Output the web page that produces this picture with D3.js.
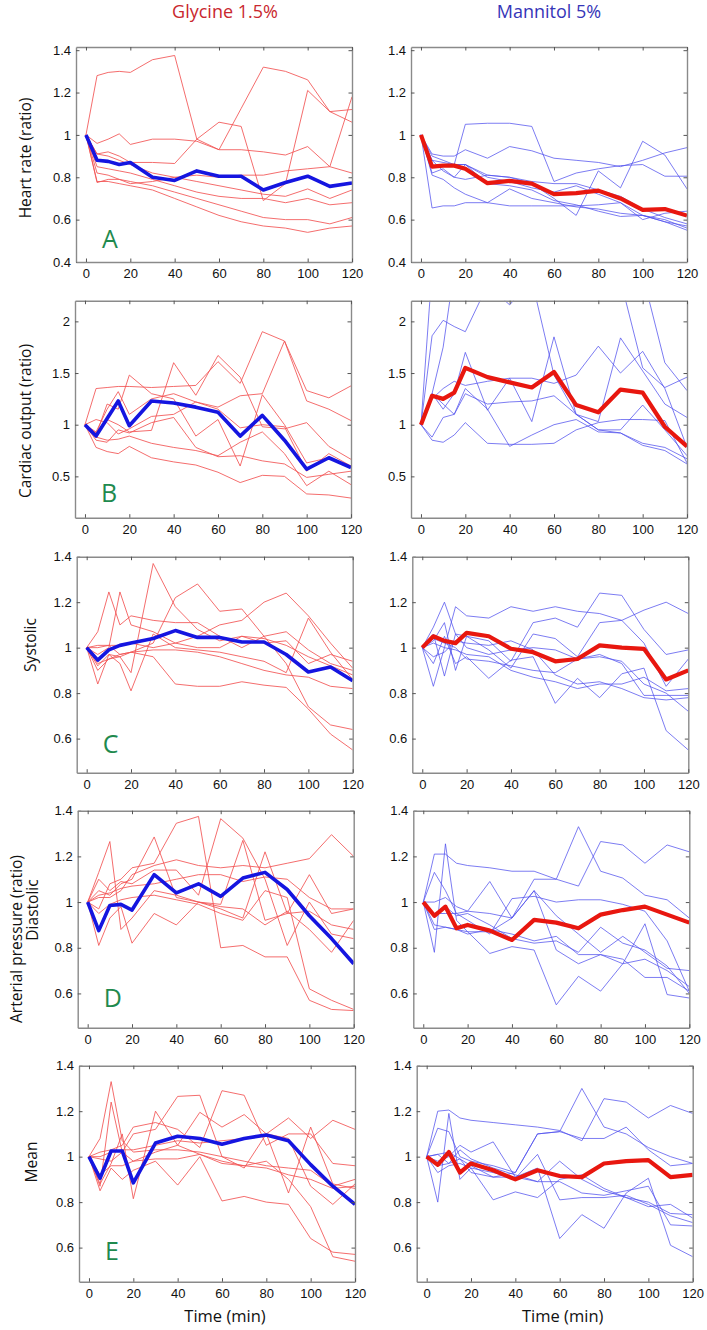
<!DOCTYPE html>
<html>
<head>
<meta charset="utf-8">
<script src="https://cdn.jsdelivr.net/npm/d3@7"></script>
<style>
  html, body { margin: 0; padding: 0; background: #fff; }
  svg { display: block; }
</style>
</head>
<body>
<svg id="chart" width="707" height="1330"></svg>
<script>
// ---------------- DATA ----------------
const times = [0, 5, 10, 15, 20, 30, 40, 50, 60, 70, 80, 90, 100, 110, 120];
const groupTitles = ["Glycine 1.5%", "Mannitol 5%"];
const panelLetters = ["A", "B", "C", "D", "E"];
const xTicks = [0, 20, 40, 60, 80, 100, 120];
const xLabel = "Time (min)";

// A: heart rate
const glyHeartRate = [
  [1.0, 1.28, 1.295, 1.30, 1.295, 1.355, 1.375, 0.98, 0.93, 1.125, 1.32, 1.30, 1.26, 1.11, 1.06],
  [1.0, 0.96, 0.98, 1.005, 0.955, 0.98, 0.98, 0.97, 0.93, 0.93, 0.92, 0.905, 0.945, 0.85, 1.18],
  [1.0, 0.91, 0.92, 0.90, 0.87, 0.87, 0.865, 0.98, 1.06, 1.04, 0.69, 0.77, 1.21, 1.11, 1.12],
  [1.0, 0.91, 0.90, 0.88, 0.86, 0.82, 0.80, 0.78, 0.76, 0.74, 0.72, 0.71, 0.745, 0.70, 0.74],
  [1.0, 0.85, 0.84, 0.83, 0.82, 0.79, 0.76, 0.73, 0.71, 0.70, 0.70, 0.68, 0.70, 0.67, 0.68],
  [1.0, 0.82, 0.81, 0.79, 0.78, 0.76, 0.73, 0.70, 0.67, 0.64, 0.61, 0.60, 0.60, 0.58, 0.61],
  [1.0, 0.78, 0.78, 0.77, 0.76, 0.74, 0.70, 0.66, 0.62, 0.59, 0.57, 0.56, 0.54, 0.56, 0.57],
  [1.0, 0.775, 0.79, 0.79, 0.77, 0.78, 0.80, 0.81, 0.80, 0.81, 0.81, 0.83, 0.84, 0.85, 0.82]
];
const glyHeartRateMean = [1.0, 0.88, 0.875, 0.86, 0.87, 0.80, 0.785, 0.83, 0.805, 0.805, 0.74, 0.775, 0.805, 0.757, 0.773];
const manHeartRate = [
  [1.0, 0.90, 0.88, 0.86, 1.05, 1.055, 1.055, 1.04, 0.78, 0.82, 0.84, 0.855, 0.86, 0.805, 0.805],
  [1.0, 0.91, 0.90, 0.90, 0.93, 0.89, 0.945, 0.925, 0.89, 0.88, 0.87, 0.85, 0.88, 0.915, 0.94],
  [1.0, 0.88, 0.87, 0.86, 0.86, 0.81, 0.80, 0.77, 0.70, 0.62, 0.83, 0.75, 0.97, 0.905, 0.745],
  [1.0, 0.655, 0.665, 0.665, 0.68, 0.68, 0.745, 0.70, 0.68, 0.66, 0.65, 0.63, 0.62, 0.59, 0.57],
  [1.0, 0.81, 0.79, 0.75, 0.72, 0.68, 0.665, 0.665, 0.665, 0.665, 0.67, 0.68, 0.62, 0.60, 0.56],
  [1.0, 0.88, 0.83, 0.80, 0.79, 0.81, 0.80, 0.78, 0.77, 0.77, 0.74, 0.71, 0.65, 0.61, 0.58],
  [1.0, 0.85, 0.86, 0.86, 0.86, 0.77, 0.76, 0.74, 0.69, 0.67, 0.64, 0.615, 0.62, 0.59, 0.55],
  [1.0, 0.82, 0.84, 0.80, 0.86, 0.80, 0.78, 0.75, 0.73, 0.76, 0.72, 0.68, 0.60, 0.63, 0.64]
];
const manHeartRateMean = [1.0, 0.85, 0.855, 0.855, 0.84, 0.772, 0.783, 0.77, 0.72, 0.725, 0.737, 0.70, 0.646, 0.65, 0.619];

// B: cardiac output
const glyCardiacOutput = [
  [1.0, 1.35, 1.36, 1.37, 1.37, 1.36, 1.37, 1.38, 1.61, 1.40, 1.90, 1.81, 1.33, 1.26, 1.376],
  [1.0, 0.93, 1.15, 1.32, 1.10, 1.25, 1.30, 1.22, 1.17, 1.28, 1.30, 1.81, 1.23, 1.15, 1.04],
  [1.0, 0.92, 1.05, 1.00, 0.93, 0.945, 1.60, 1.285, 1.67, 1.46, 0.98, 0.96, 1.02, 0.79, 0.665],
  [1.0, 0.90, 1.20, 1.15, 1.48, 1.30, 1.25, 0.89, 1.05, 0.60, 1.29, 1.00, 0.63, 0.68, 0.60],
  [1.0, 1.05, 1.02, 0.91, 0.96, 1.08, 1.10, 1.22, 1.15, 0.97, 1.00, 0.98, 0.55, 0.72, 0.60],
  [1.0, 0.85, 0.83, 0.95, 0.92, 1.02, 1.07, 0.78, 0.69, 0.70, 0.65, 0.62, 0.49, 0.52, 0.55],
  [1.0, 0.78, 0.74, 0.72, 0.79, 0.68, 0.64, 0.61, 0.54, 0.44, 0.51, 0.50, 0.33, 0.32, 0.29],
  [1.0, 0.88, 0.85, 0.86, 0.89, 0.82, 0.78, 0.75, 0.70, 0.83, 0.93, 0.72, 0.41, 0.55, 0.42]
];
const glyCardiacOutputMean = [1.0, 0.89, 1.06, 1.23, 0.99, 1.23, 1.21, 1.17, 1.12, 0.89, 1.09, 0.85, 0.57, 0.68, 0.585];
const manCardiacOutput = [
  [1.0, 2.5, 2.6, 2.6, 2.7, 2.7, 2.6, 2.6, 2.5, 2.4, 2.4, 2.4, 1.55, 1.36, 1.46],
  [1.0, 1.30, 1.75, 2.5, 2.5, 2.6, 2.6, 2.6, 2.6, 2.6, 2.5, 2.5, 2.45, 1.6, 1.33],
  [1.0, 1.86, 2.01, 1.95, 1.90, 2.35, 2.16, 2.40, 1.48, 1.10, 0.95, 0.92, 0.80, 0.75, 0.62],
  [1.0, 1.30, 1.15, 1.30, 1.70, 1.14, 1.45, 1.03, 1.85, 1.10, 1.03, 1.84, 1.52, 1.20, 1.07],
  [1.0, 1.25, 1.35, 1.42, 1.38, 1.42, 1.45, 1.45, 1.40, 1.48, 1.76, 1.50, 1.71, 1.35, 0.78],
  [1.0, 1.30, 1.20, 1.10, 1.30, 1.20, 1.22, 1.23, 1.28, 1.10, 0.95, 0.95, 1.19, 0.95, 0.70],
  [1.0, 0.85, 0.83, 0.90, 1.02, 0.82, 0.81, 0.81, 0.82, 0.95, 1.02, 1.05, 1.05, 1.04, 0.63],
  [1.0, 0.88, 1.07, 1.10, 1.35, 1.15, 0.79, 0.90, 1.00, 1.05, 0.93, 0.92, 0.82, 0.78, 0.67]
];
const manCardiacOutputMean = [1.0, 1.28, 1.25, 1.31, 1.55, 1.46, 1.41, 1.36, 1.51, 1.19, 1.12, 1.34, 1.31, 0.98, 0.79];

// C: systolic arterial pressure
const glySystolic = [
  [1.0, 1.07, 1.245, 1.10, 1.14, 1.12, 1.11, 1.11, 1.05, 1.00, 1.05, 1.07, 0.99, 0.93, 0.90],
  [1.0, 0.97, 1.00, 1.245, 1.10, 1.07, 1.02, 1.00, 1.00, 1.05, 1.02, 1.03, 0.93, 0.97, 0.94],
  [1.0, 0.92, 0.97, 0.96, 0.89, 1.37, 1.18, 1.08, 1.03, 1.05, 1.04, 1.01, 0.96, 0.92, 0.88],
  [1.0, 0.90, 0.95, 0.97, 0.98, 1.02, 1.22, 1.28, 1.16, 1.17, 1.05, 0.93, 0.74, 0.66, 0.64],
  [1.0, 1.00, 1.01, 1.01, 1.02, 1.00, 1.02, 1.05, 1.10, 1.12, 1.20, 1.24, 1.14, 1.02, 0.91],
  [1.0, 0.84, 0.97, 0.93, 0.81, 1.06, 1.00, 0.99, 0.98, 0.96, 0.94, 0.89, 1.13, 0.98, 0.86],
  [1.0, 0.93, 0.95, 0.96, 0.98, 0.96, 0.84, 0.83, 0.83, 0.85, 0.835, 0.825, 0.73, 0.62, 0.55],
  [1.0, 1.01, 1.01, 0.97, 0.98, 0.99, 0.99, 0.98, 0.96, 0.93, 0.90, 0.88, 0.87, 0.83, 0.82]
];
const glySystolicMean = [1.0, 0.945, 0.99, 1.01, 1.02, 1.04, 1.075, 1.045, 1.045, 1.025, 1.025, 0.97, 0.893, 0.915, 0.855];
const manSystolic = [
  [1.0, 1.09, 1.20, 1.06, 1.00, 0.97, 0.99, 1.00, 0.99, 0.95, 0.96, 0.94, 0.84, 0.80, 0.72],
  [1.0, 0.83, 1.00, 1.18, 1.14, 1.13, 1.18, 1.16, 1.18, 1.16, 1.15, 1.12, 1.165, 1.20, 1.15],
  [1.0, 1.03, 1.11, 0.90, 1.05, 1.03, 0.94, 1.11, 1.13, 1.09, 1.24, 1.23, 1.08, 0.97, 0.99],
  [1.0, 1.06, 0.875, 1.06, 1.05, 0.99, 0.91, 1.06, 1.04, 0.96, 1.11, 1.12, 1.02, 0.83, 0.95],
  [1.0, 0.93, 1.05, 0.93, 0.96, 0.865, 0.945, 0.96, 0.755, 0.865, 0.78, 0.885, 0.91, 0.635, 0.55],
  [1.0, 1.02, 1.00, 0.99, 0.97, 0.96, 0.90, 0.87, 0.85, 0.82, 0.84, 0.84, 0.87, 0.81, 0.82],
  [1.0, 1.04, 1.02, 1.00, 0.95, 0.94, 0.92, 0.90, 0.89, 0.95, 0.97, 0.93, 0.79, 0.79, 0.79],
  [1.0, 0.96, 0.98, 1.03, 1.02, 1.01, 1.03, 0.99, 0.88, 0.84, 0.85, 0.82, 0.78, 0.77, 0.78]
];
const manSystolicMean = [1.0, 1.05, 1.03, 1.02, 1.065, 1.05, 0.995, 0.98, 0.94, 0.95, 1.01, 1.00, 0.995, 0.86, 0.90];

// D: diastolic arterial pressure
const glyDiastolic = [
  [1.0, 1.13, 1.265, 0.88, 0.93, 1.05, 1.03, 1.00, 0.97, 0.93, 1.22, 0.95, 0.96, 0.90, 0.88],
  [1.0, 1.05, 1.03, 1.08, 1.10, 1.285, 1.02, 1.00, 0.99, 1.27, 0.92, 0.95, 1.12, 0.95, 0.97],
  [1.0, 0.97, 1.08, 1.10, 1.15, 1.17, 1.345, 1.375, 0.80, 0.81, 0.76, 0.76, 0.57, 0.53, 0.525],
  [1.0, 1.10, 1.05, 1.09, 1.08, 1.14, 1.14, 1.03, 1.365, 1.28, 1.10, 0.81, 1.00, 0.86, 0.84],
  [1.0, 1.02, 1.02, 1.05, 1.12, 1.16, 1.185, 1.16, 1.15, 1.16, 1.15, 1.17, 1.19, 1.295, 1.20],
  [1.0, 0.81, 0.93, 0.98, 0.82, 0.95, 0.90, 1.00, 0.98, 0.97, 0.90, 0.96, 0.88, 0.78, 0.92],
  [1.0, 0.95, 0.99, 1.01, 1.02, 1.03, 1.01, 0.99, 0.95, 0.92, 1.05, 1.02, 0.62, 0.57, 0.53],
  [1.0, 1.03, 1.04, 1.06, 1.07, 1.08, 1.10, 1.12, 1.12, 1.09, 1.11, 1.10, 1.02, 0.97, 0.97]
];
const glyDiastolicMean = [1.0, 0.875, 0.985, 0.99, 0.965, 1.12, 1.04, 1.08, 1.025, 1.105, 1.13, 1.055, 0.94, 0.84, 0.73];
const manDiastolic = [
  [1.0, 1.21, 1.21, 1.17, 1.16, 1.15, 1.135, 1.135, 1.10, 1.07, 1.265, 1.25, 1.17, 1.25, 1.22],
  [1.0, 1.13, 1.05, 0.95, 0.96, 0.95, 0.93, 1.10, 1.10, 1.33, 1.135, 1.105, 1.03, 1.01, 0.93],
  [1.0, 0.78, 1.255, 0.92, 0.87, 0.87, 0.93, 1.05, 0.79, 0.73, 0.77, 0.73, 0.905, 0.595, 0.58],
  [1.0, 1.00, 1.02, 0.98, 0.96, 1.09, 0.93, 1.05, 0.94, 0.86, 0.78, 0.85, 0.78, 0.71, 0.70],
  [1.0, 0.90, 0.89, 0.88, 0.87, 0.775, 0.805, 0.79, 0.55, 0.675, 0.61, 0.73, 0.75, 0.70, 0.63],
  [1.0, 0.95, 0.95, 0.95, 0.92, 0.86, 1.015, 1.025, 1.00, 1.01, 1.01, 0.99, 0.96, 0.83, 0.61],
  [1.0, 0.88, 0.89, 0.88, 0.86, 0.88, 0.86, 0.83, 0.85, 0.77, 0.77, 0.75, 0.67, 0.67, 0.61],
  [1.0, 0.95, 0.98, 0.94, 0.95, 0.90, 0.84, 0.82, 0.83, 0.78, 0.89, 0.82, 0.79, 0.72, 0.60]
];
const manDiastolicMean = [1.0, 0.94, 0.98, 0.885, 0.90, 0.875, 0.834, 0.922, 0.91, 0.885, 0.945, 0.965, 0.98, 0.945, 0.91];

// E: mean arterial pressure
const glyMeanPressure = [
  [1.0, 1.08, 1.33, 1.07, 1.02, 1.03, 1.03, 1.02, 1.00, 0.98, 0.96, 0.95, 0.94, 0.87, 0.90],
  [1.0, 0.87, 1.24, 1.02, 0.98, 1.02, 1.05, 1.195, 1.13, 1.185, 1.10, 0.84, 1.13, 0.88, 0.86],
  [1.0, 0.88, 0.97, 1.10, 0.815, 1.20, 1.05, 1.01, 0.97, 0.96, 0.95, 0.92, 0.90, 0.86, 0.87],
  [1.0, 0.99, 0.98, 1.02, 1.10, 1.12, 1.265, 1.27, 1.00, 0.95, 1.10, 1.08, 0.87, 0.79, 0.88],
  [1.0, 1.02, 1.03, 1.05, 1.13, 1.15, 1.12, 1.04, 1.29, 1.27, 1.05, 1.10, 1.10, 0.97, 0.96],
  [1.0, 0.85, 0.95, 0.90, 0.94, 0.98, 0.875, 1.00, 0.805, 0.825, 0.80, 0.79, 0.64, 0.58, 0.57],
  [1.0, 1.00, 1.02, 1.03, 1.03, 1.05, 1.07, 1.06, 1.07, 1.08, 1.10, 1.17, 1.08, 1.16, 1.12],
  [1.0, 0.92, 0.96, 0.96, 0.98, 0.99, 0.99, 1.01, 0.98, 0.96, 0.98, 0.90, 0.78, 0.56, 0.54]
];
const glyMeanPressureMean = [1.0, 0.905, 1.025, 1.025, 0.885, 1.06, 1.09, 1.08, 1.055, 1.08, 1.095, 1.07, 0.965, 0.87, 0.79];
const manMeanPressure = [
  [1.0, 1.20, 1.205, 1.17, 1.16, 1.15, 1.14, 1.13, 1.115, 1.07, 1.255, 1.24, 1.17, 1.225, 1.19],
  [1.0, 1.125, 1.11, 1.00, 0.98, 0.96, 0.93, 1.10, 1.11, 1.30, 1.13, 1.10, 1.04, 1.00, 0.97],
  [1.0, 0.80, 1.19, 0.90, 0.95, 0.93, 0.905, 1.01, 0.81, 0.82, 0.82, 0.83, 0.79, 0.74, 0.71],
  [1.0, 0.98, 1.00, 1.05, 1.02, 1.065, 0.91, 0.95, 0.64, 0.745, 0.685, 0.84, 0.905, 0.61, 0.56],
  [1.0, 1.01, 1.02, 0.99, 0.96, 0.91, 0.93, 1.10, 1.11, 1.08, 1.08, 1.13, 1.03, 0.96, 0.97],
  [1.0, 0.93, 0.96, 0.97, 0.95, 0.81, 0.845, 0.82, 0.90, 0.92, 0.86, 0.82, 0.80, 0.75, 0.745],
  [1.0, 0.96, 0.97, 0.99, 0.93, 0.91, 0.91, 0.89, 0.89, 0.84, 0.83, 0.85, 0.87, 0.70, 0.695],
  [1.0, 1.01, 0.97, 1.03, 0.99, 0.95, 0.92, 0.89, 0.98, 0.90, 0.85, 0.82, 0.78, 0.79, 0.73]
];
const manMeanPressureMean = [1.0, 0.964, 1.02, 0.93, 0.97, 0.94, 0.90, 0.94, 0.915, 0.91, 0.97, 0.98, 0.985, 0.91, 0.92];

const yTicksA = [0.4, 0.6, 0.8, 1, 1.2, 1.4];
const yTicksB = [0.5, 1, 1.5, 2];
const yTicksP = [0.6, 0.8, 1, 1.2, 1.4];

// ---------------- LAYOUT ----------------
const svg = d3.select("#chart");
const W = 276;
const rows = [
  { glyS: glyHeartRate, glyM: glyHeartRateMean, manS: manHeartRate, manM: manHeartRateMean,
    domain: [0.4, 1.415], ticks: yTicksA, top: 47, bottom: 262, lefts: [76, 411], letterDy: 14 },
  { glyS: glyCardiacOutput, glyM: glyCardiacOutputMean, manS: manCardiacOutput, manM: manCardiacOutputMean,
    domain: [0.1, 2.2], ticks: yTicksB, top: 300.7, bottom: 517.7, lefts: [75, 411], letterDy: 16 },
  { glyS: glySystolic, glyM: glySystolicMean, manS: manSystolic, manM: manSystolicMean,
    domain: [0.45, 1.4], ticks: yTicksP, top: 556.7, bottom: 772.7, lefts: [76.7, 412.3], letterDy: 20 },
  { glyS: glyDiastolic, glyM: glyDiastolicMean, manS: manDiastolic, manM: manDiastolicMean,
    domain: [0.45, 1.4], ticks: yTicksP, top: 810.7, bottom: 1027.7, lefts: [77.7, 413.3], letterDy: 21 },
  { glyS: glyMeanPressure, glyM: glyMeanPressureMean, manS: manMeanPressure, manM: manMeanPressureMean,
    domain: [0.45, 1.4], ticks: yTicksP, top: 1065.7, bottom: 1281.7, lefts: [79, 416.7], letterDy: 22 }
];

const styles = [
  { indiv: "#f25454", mean: "#1515e0", meanW: 3.6, indivOp: 0.85 },
  { indiv: "#5050ee", mean: "#e8170f", meanW: 4.2, indivOp: 0.75 }
];

const tickFont = "'Liberation Sans', Arial, sans-serif";
const labelFont = "'Open Sans', 'DejaVu Sans', sans-serif";
const fmt = d => String(+d.toFixed(2));

rows.forEach((row, ri) => {
  [0, 1].forEach(ci => {
    const left = row.lefts[ci];
    const x = d3.scaleLinear().domain([-4.5, 120]).range([left, left + W]);
    const y = d3.scaleLinear().domain(row.domain).range([row.bottom, row.top]);
    const g = svg.append("g");
    const clipId = `clip-${ri}-${ci}`;
    g.append("clipPath").attr("id", clipId).append("rect")
      .attr("x", left).attr("y", row.top).attr("width", W).attr("height", row.bottom - row.top);

    const line = d3.line().x((d, i) => x(times[i])).y(d => y(d));
    const series = ci === 0 ? row.glyS : row.manS;
    const mean = ci === 0 ? row.glyM : row.manM;
    const st = styles[ci];

    const plot = g.append("g").attr("clip-path", `url(#${clipId})`);
    plot.selectAll("path.indiv").data(series).join("path")
      .attr("class", "indiv")
      .attr("d", line)
      .attr("fill", "none")
      .attr("stroke", st.indiv)
      .attr("stroke-opacity", st.indivOp)
      .attr("stroke-width", 1);
    plot.append("path")
      .attr("d", line(mean))
      .attr("fill", "none")
      .attr("stroke", st.mean)
      .attr("stroke-width", st.meanW)
      .attr("stroke-linejoin", "round");

    // axes (MATLAB style: ticks inside on every side)
    const axL = g.append("g").attr("transform", `translate(${left},0)`)
      .call(d3.axisLeft(y).tickValues(row.ticks).tickSizeInner(-3.5).tickSizeOuter(0).tickPadding(5).tickFormat(fmt));
    const axR = g.append("g").attr("transform", `translate(${left + W},0)`)
      .call(d3.axisRight(y).tickValues(row.ticks).tickSizeInner(-3.5).tickSizeOuter(0).tickFormat(""));
    const axB = g.append("g").attr("transform", `translate(0,${row.bottom})`)
      .call(d3.axisBottom(x).tickValues(xTicks).tickSizeInner(-3.5).tickSizeOuter(0).tickPadding(7).tickFormat(d => d));
    const axT = g.append("g").attr("transform", `translate(0,${row.top})`)
      .call(d3.axisTop(x).tickValues(xTicks).tickSizeInner(-3.5).tickSizeOuter(0).tickFormat(""));
    [axL, axR, axB, axT].forEach(a => {
      a.select(".domain").attr("stroke", "#8a8a8a").attr("stroke-width", 1.4);
      a.selectAll(".tick line").attr("stroke", "#555").attr("stroke-width", 1);
      a.selectAll("text").attr("font-family", tickFont).attr("font-size", 13).attr("fill", "#111");
    });
    axB.selectAll("text").attr("dy", "0.71em");

    if (ci === 0) {
      g.append("text")
        .attr("x", left + 26).attr("y", row.bottom - row.letterDy)
        .attr("font-family", labelFont).attr("font-size", 25)
        .attr("fill", "#1f8a4e").text(panelLetters[ri]);
    }
    if (ri === rows.length - 1) {
      g.append("text")
        .attr("x", (x(-4.5) + x(120)) / 2 + 8).attr("y", 1322)
        .attr("text-anchor", "middle")
        .attr("font-family", labelFont).attr("font-size", 16.5)
        .attr("fill", "#111").text(xLabel);
    }
  });
});

// column titles
svg.append("text").attr("x", 225).attr("y", 18).attr("text-anchor", "middle")
  .attr("font-family", labelFont).attr("font-size", 18).attr("fill", "#c9272e").text(groupTitles[0]);
svg.append("text").attr("x", 549).attr("y", 18).attr("text-anchor", "middle")
  .attr("font-family", labelFont).attr("font-size", 18).attr("fill", "#3535b8").text(groupTitles[1]);

// y-axis labels (rotated)
const yLabels = [
  { text: "Heart rate (ratio)", x: 31, y: 158 },
  { text: "Cardiac output (ratio)", x: 31, y: 421 },
  { text: "Systolic", x: 36, y: 645 },
  { text: "Arterial pressure (ratio)", x: 22, y: 939 },
  { text: "Diastolic", x: 38, y: 910 },
  { text: "Mean", x: 37, y: 1162 }
];
yLabels.forEach(l => {
  svg.append("text")
    .attr("transform", `translate(${l.x},${l.y}) rotate(-90)`)
    .attr("text-anchor", "middle")
    .attr("font-family", labelFont).attr("font-size", 15.5)
    .attr("fill", "#111").text(l.text);
});
</script>
</body>
</html>
